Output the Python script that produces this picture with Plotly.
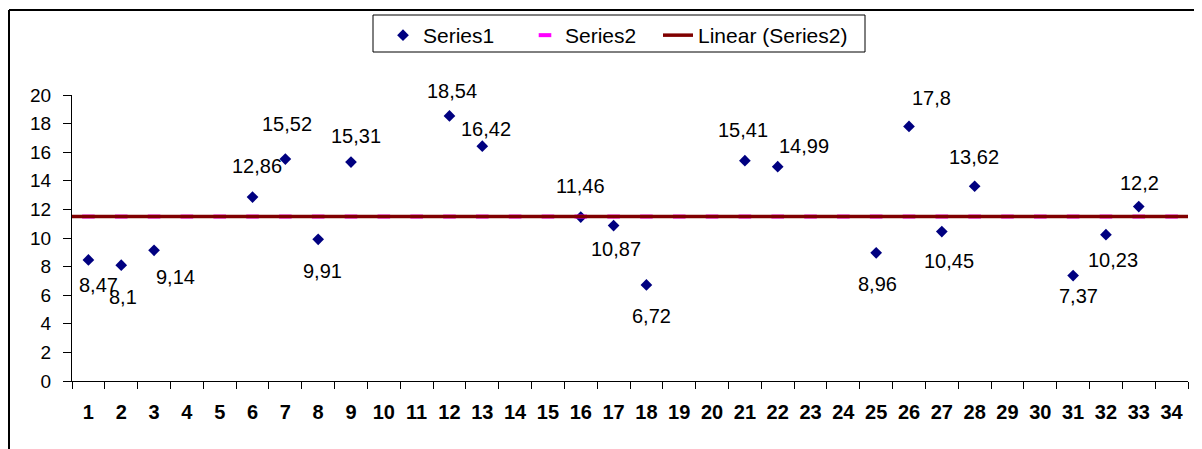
import numpy as np
import plotly.graph_objects as go

# ---- data ----
categories = list(range(1, 35))
tick_labels = [str(c) for c in categories]

series1_x = [1, 2, 3, 6, 7, 8, 9, 12, 13, 16, 17, 18, 21, 22, 25, 26, 27, 28, 31, 32, 33]
series1_y = [8.47, 8.1, 9.14, 12.86, 15.52, 9.91, 15.31, 18.54, 16.42, 11.46, 10.87,
             6.72, 15.41, 14.99, 8.96, 17.8, 10.45, 13.62, 7.37, 10.23, 12.2]

series2_y = [11.5] * len(categories)

# label offsets in pixels (dx right, dy down) - styling only
label_dx = [10, 2, 21, 4, 2, 4, 5, 3, 4, 0, 2, 5, -2, 26, 1, 22, 7, -1, 5, 7, 1]
label_dy = [25, 32, 27, -31, -35, 32, -26, -25, -17, -31, 23, 31, -31, -21, 31, -28, 29, -29, 20, 25, -24]

FONT = "Liberation Sans, Arial, sans-serif"

# linear trendline of Series2
coef = np.polyfit(categories, series2_y, 1)
trend_x = [min(categories) - 0.5, max(categories) + 0.5]
trend_y = list(np.polyval(coef, trend_x))

fig = go.Figure()
fig.add_trace(go.Scatter(
    x=series1_x, y=series1_y, mode="markers", name="Series1", legend="legend",
    marker=dict(symbol="diamond", size=9, color="#000080"),
))
fig.add_trace(go.Scatter(
    x=categories, y=series2_y, mode="markers", name="Series2", legend="legend",
    marker=dict(symbol="line-ew", size=9, color="#FF00FF",
                line=dict(color="#FF00FF", width=4)),
))
fig.add_trace(go.Scatter(
    x=trend_x, y=trend_y, mode="lines", name="Linear (Series2)", legend="legend2",
    line=dict(color="#800000", width=3.5),
))

annotations = []
for x, y, dx, dy in zip(series1_x, series1_y, label_dx, label_dy):
    annotations.append(dict(
        x=x, y=y, xref="x", yref="y", text=f"{y:g}".replace(".", ","),
        showarrow=False, xshift=dx, yshift=-dy,
        font=dict(family=FONT, size=20, color="black"),
    ))

# page has an 8px body margin: lay out in page coords minus 8
OFF = 8
W, H = 1202 - OFF, 449 - OFF
L = 72 - OFF
T = 95 - OFF
plot_right = 1188 - OFF
plot_bottom = 381 - OFF
R = W - plot_right
B = H - plot_bottom
pw, ph = W - L - R, H - T - B

def px_x(p):
    return (p - OFF - L) / pw

def px_y(p):
    return 1 + (T - (p - OFF)) / ph

legend_common = dict(
    orientation="h", xanchor="left", yanchor="top", y=px_y(15),
    borderwidth=0, bgcolor="rgba(0,0,0,0)",
    font=dict(family=FONT, size=21, color="black"),
)

fig.update_layout(
    width=W, height=H,
    margin=dict(l=L, r=R, t=T, b=B, pad=0, autoexpand=False),
    paper_bgcolor="white", plot_bgcolor="white",
    font=dict(family=FONT, color="black"),
    showlegend=True,
    legend=dict(legend_common, x=px_x(383), entrywidth=97, entrywidthmode="pixels"),
    legend2=dict(legend_common, x=px_x(658)),
    annotations=annotations,
    xaxis=dict(
        range=[0.5, 34.5], tickmode="array", tickvals=categories, ticktext=tick_labels,
        showgrid=False, zeroline=False, showline=True, linecolor="black", linewidth=1,
        ticks="outside", ticklen=7, tickcolor="rgba(0,0,0,0)",
        tickfont=dict(family=FONT, size=20, color="black", weight="bold"),
        ticklabelstandoff=6,
        minor=dict(tickmode="array", tickvals=[c - 0.5 for c in categories] + [max(categories) + 0.5],
                   ticks="outside", ticklen=7, tickcolor="black", tickwidth=1, showgrid=False),
        fixedrange=True,
    ),
    yaxis=dict(
        range=[0, 20], tickmode="linear", tick0=0, dtick=2,
        showgrid=False, zeroline=False, showline=True, linecolor="black", linewidth=1,
        ticks="outside", ticklen=8, tickcolor="black",
        tickfont=dict(family=FONT, size=19, color="black"),
        ticklabelstandoff=8,
        fixedrange=True,
    ),
    shapes=[
        # outer chart frame (left and top edges visible)
        dict(type="line", xref="paper", yref="paper", layer="above",
             x0=px_x(9), x1=px_x(9), y0=px_y(470), y1=px_y(10),
             line=dict(color="black", width=2)),
        dict(type="line", xref="paper", yref="paper", layer="above",
             x0=px_x(9), x1=px_x(1230), y0=px_y(10), y1=px_y(10),
             line=dict(color="black", width=2)),
        # legend box
        dict(type="rect", xref="paper", yref="paper", layer="below",
             x0=px_x(373), x1=px_x(865), y0=px_y(52), y1=px_y(15),
             line=dict(color="black", width=1), fillcolor="white"),
    ],
)

fig.write_html("out.html")
